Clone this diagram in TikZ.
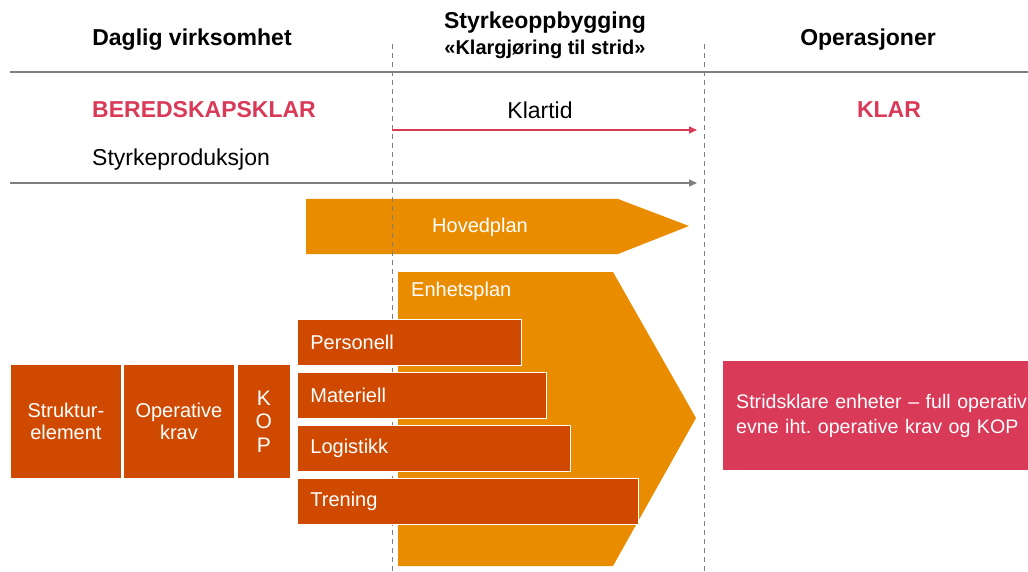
\documentclass[tikz,border=0pt]{standalone}
\usepackage{fontspec}
\setmainfont{Liberation Sans}
\usetikzlibrary{arrows.meta}
\definecolor{planorange}{HTML}{EA8C00}
\definecolor{unitorange}{HTML}{CF4A00}
\definecolor{readyred}{HTML}{D93A58}
\definecolor{rulegray}{HTML}{7F7F7F}
\frenchspacing
\begin{document}
\begin{tikzpicture}[x=1pt,y=-1pt,
  heading/.style={font=\fontsize{23}{27}\selectfont\bfseries, inner sep=0pt},
  subheading/.style={font=\fontsize{20}{24}\selectfont\bfseries, inner sep=0pt},
  plain/.style={font=\fontsize{23}{27}\selectfont, inner sep=0pt},
  status/.style={font=\fontsize{23}{27}\selectfont\bfseries, text=readyred, inner sep=0pt},
  bodytext/.style={font=\fontsize{20}{24}\selectfont, text=white},
  unitbox/.style={bodytext, fill=unitorange, draw=white, line width=0.8pt,
    anchor=north west, minimum height=46pt, inner xsep=13pt, align=left},
  basebox/.style={bodytext, fill=unitorange, draw=white, line width=0.8pt,
    anchor=north west, minimum height=114pt, inner sep=0pt, align=center},
  phase/.style={rulegray, dashed, dash pattern=on 5pt off 4pt, line width=0.8pt},
  timeline/.style={line width=1.4pt, -{Triangle[length=8pt,width=7pt]}}
]
\clip (0,0) rectangle (1028,572);
\fill[white] (0,0) rectangle (1028,572);

% column headings
\node[heading] (daily) at (192,40) {Daglig virksomhet};
\node[heading] (buildup) at (545,23) {Styrkeoppbygging};
\node[subheading] (buildsub) at (545,49) {«Klargjøring til strid»};
\node[heading] (ops) at (868,40) {Operasjoner};

\coordinate (ruleL) at (10,72);
\coordinate (ruleR) at (1028,72);
\draw[rulegray, line width=1.4pt] (ruleL) -- (ruleR);

% main plan arrow
\fill[planorange] (306,199) -- (618,199) -- (689,226) -- (618,254) -- (306,254) -- cycle;
\node[bodytext] (main) at (480,227) {Hovedplan};

% phase boundaries
\coordinate (p1top) at (392,44);
\coordinate (p1bot) at (392,572);
\coordinate (p2top) at (704,44);
\coordinate (p2bot) at (704,572);
\draw[phase] (p1top) -- (p1bot);
\draw[phase] (p2top) -- (p2bot);

% readiness states
\node[status, anchor=west] (standby) at (92,110) {BEREDSKAPSKLAR};
\node[plain] (klartid) at (540,110) {Klartid};
\node[status] (ready) at (889,110) {KLAR};
\coordinate (kstart) at (392,130);
\coordinate (kend) at (697,130);
\draw[timeline, readyred] (kstart) -- (kend);

\node[plain, anchor=west] (production) at (92,160) {Styrkeproduksjon};
\coordinate (sstart) at (10,183);
\coordinate (send) at (697,183);
\draw[timeline, rulegray] (sstart) -- (send);

% unit plan chevron
\fill[planorange] (398,272) -- (613,272) -- (696,418) -- (613,566) -- (398,566) -- cycle;
\node[bodytext, anchor=west, inner sep=0pt] (unitplan) at (411,291) {Enhetsplan};

% base elements
\node[basebox, minimum width=111pt] (struct) at (10,364) {Struktur-\\[-2pt]element};
\node[basebox, minimum width=111pt] (opreq) at (123,364) {Operative\\[-2pt]krav};
\node[basebox, minimum width=53pt, font=\fontsize{21}{23.5}\selectfont] (kop) at (237,364) {K\\O\\P};

% unit plan components
\node[unitbox, text width=198pt] (pers) at (297,319) {Personell};
\node[unitbox, text width=223pt] (mat) at (297,372) {Materiell};
\node[unitbox, text width=247pt] (log) at (297,425) {Logistikk};
\node[unitbox, text width=315pt] (tren) at (297,478) {Trening};

% outcome (box runs past the right edge)
\node[bodytext, fill=readyred, anchor=north west, minimum height=109pt,
  text width=400pt, inner xsep=13pt, align=left,
  font=\fontsize{19.6}{25}\selectfont] (outcome) at (723,361)
  {Stridsklare enheter – full operativ\\evne iht. operative krav og KOP};
\end{tikzpicture}
\end{document}
